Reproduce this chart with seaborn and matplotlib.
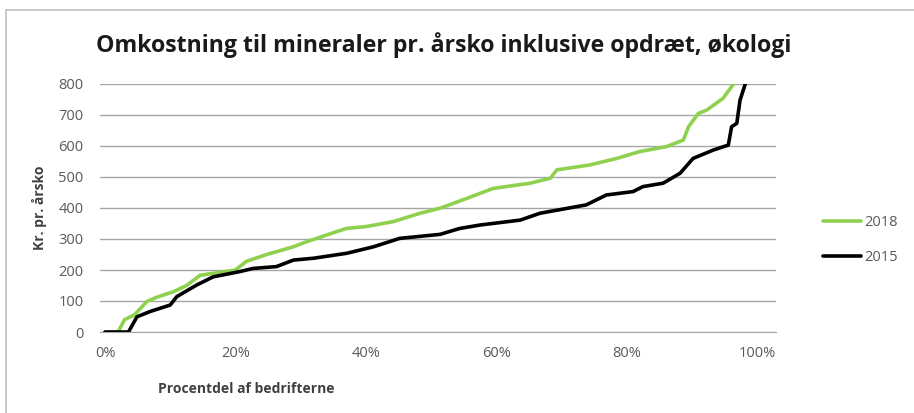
import numpy as np
import pandas as pd
import matplotlib
matplotlib.use("Agg")
import matplotlib.pyplot as plt
import seaborn as sns
from matplotlib.ticker import PercentFormatter

# ---------------- data ----------------
pct_2018 = [0, 2.0, 3.0, 4.5, 6.4, 7.9, 10.5, 12.5, 14.6, 20.0, 21.7, 24.8, 28.9, 30.9,
            34.0, 37.0, 40.0, 44.2, 48.3, 51.5, 55.5, 59.5, 65.2, 68.3, 69.3, 74.4,
            78.5, 82.0, 86.1, 88.7, 89.5, 91.0, 92.3, 94.8, 96.4]
val_2018 = [0, 0, 40, 55, 98, 112, 130, 150, 183, 200, 228, 250, 275, 291,
            313, 334, 340, 356, 383, 400, 431, 463, 480, 496, 523, 539,
            560, 582, 598, 619, 662, 705, 716, 754, 800]

pct_2015 = [0, 3.6, 4.9, 6.9, 10.0, 11.0, 14.1, 16.6, 20.7, 22.7, 26.3, 28.9, 32.0,
            37.1, 41.2, 45.2, 51.4, 54.4, 57.5, 63.7, 66.7, 73.8, 76.9, 81.0, 82.5,
            85.6, 88.2, 90.2, 93.3, 95.6, 96.1, 96.9, 97.4, 98.2]
val_2015 = [0, 0, 49, 66, 87, 114, 152, 178, 195, 205, 211, 232, 238,
            254, 275, 302, 315, 334, 345, 361, 383, 410, 442, 453, 469,
            480, 512, 560, 587, 603, 662, 673, 748, 800]

series_names = ["2018", "2015"]
series_colors = {"2018": "#8fd14f", "2015": "#000000"}

df = pd.concat([
    pd.DataFrame({"pct": np.array(pct_2018) / 100, "value": val_2018, "year": "2018"}),
    pd.DataFrame({"pct": np.array(pct_2015) / 100, "value": val_2015, "year": "2015"}),
], ignore_index=True)

# ---------------- figure ----------------
sns.set_style("white")
plt.rcParams["font.family"] = ["Open Sans", "DejaVu Sans"]

fig = plt.figure(figsize=(9.14, 4.13), dpi=100)
W, H = 914, 413
ax = fig.add_axes([100 / W, 1 - 332 / H, 676 / W, 248 / H])

# outer chart frame
fig.patches.append(plt.Rectangle((6 / W, -0.05), 1.1, 1 - 10 / H + 0.05, transform=fig.transFigure,
                                 fill=False, edgecolor="#bfbfbf", linewidth=1.2))

sns.lineplot(data=df, x="pct", y="value", hue="year", hue_order=series_names,
             palette=series_colors, linewidth=2.6, sort=False, estimator=None, ax=ax)

ax.set_xlim(-5 / 652, 1 + 19 / 652)
ax.set_ylim(0, 800)
ax.set_yticks(range(0, 801, 100))
ax.set_xticks([0, 0.2, 0.4, 0.6, 0.8, 1.0])
ax.xaxis.set_major_formatter(PercentFormatter(1.0, decimals=0))
ax.grid(True, axis="y", color="#a6a6a6", linewidth=1.0)
ax.set_axisbelow(True)
for s in ["top", "right", "left"]:
    ax.spines[s].set_visible(False)
ax.spines["bottom"].set_color("#a6a6a6")
ax.tick_params(axis="x", direction="out", length=4, color="#a6a6a6", labelsize=10.5,
               labelcolor="#595959", pad=6)
ax.tick_params(axis="y", length=0, labelsize=10.5, labelcolor="#595959", pad=12)

ax.set_ylabel("Kr. pr. årsko", fontsize=10, fontweight="bold", color="#404040", labelpad=8)
ax.set_xlabel("Procentdel af bedrifterne", fontsize=10, fontweight="bold", color="#404040", labelpad=10)
ax.xaxis.set_label_coords((246 - 100) / 676, -0.2)

fig.text(444 / W, 1 - 45 / H, "Omkostning til mineraler pr. årsko inklusive opdræt, økologi",
         ha="center", va="center", fontsize=16.7, fontweight="bold", color="#1a1a1a")

leg = ax.legend(loc="center left", bbox_to_anchor=(1.05, 0.37), frameon=False,
                fontsize=10.5, handlelength=2.6, handletextpad=0.2, labelspacing=1.4)
for t in leg.get_texts():
    t.set_color("#595959")

fig.savefig("out.png", dpi=100)
